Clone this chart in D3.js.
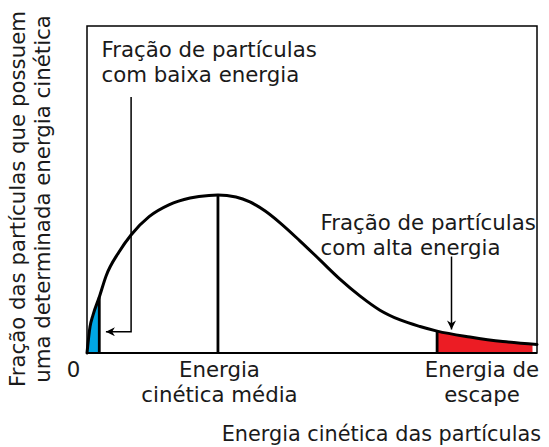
<!DOCTYPE html>
<html><head><meta charset="utf-8">
<script src="https://cdn.jsdelivr.net/npm/d3@7"></script>
<style>
body{margin:0;background:#fff}
text{font-family:"DejaVu Sans",Verdana,sans-serif;font-size:21.3px;fill:#1a1a1a}
</style>
</head><body>
<svg id="c" width="549" height="447"></svg>
<script>
// Distribution curve (energy in arbitrary units 0..100, fraction in arbitrary units 0..100)
const energy   = [0, 0.67, 1.33, 2.73, 4.22, 7.11, 9.78, 13.8, 18.2, 22.9, 27.1, 29.1, 33.1, 36.2, 39.6, 42.9, 47.3, 51.8, 56.2, 60.7, 65.1, 69.6, 74, 77.8, 85.1, 92.4, 100];
const fraction = [0, 8.0, 11.6, 17.1, 23.5, 30.9, 36.1, 41.7, 45.3, 47.4, 48.2, 48.3, 47.7, 46.2, 43.4, 39.8, 34.3, 28.4, 22.6, 17.4, 13.1, 10.1, 8.1, 6.7, 4.9, 3.5, 2.6];
// Marked energies and the curve height at each
const markerNames  = ["baixa", "media", "escape"];
const markerEnergy = [2.73, 29.1, 77.8];
const markerHeight = [17.1, 48.3, 6.7];
const redFillEnd = 99;
// Tick labels
const tickLabels = [["0"], ["Energia", "cinética média"], ["Energia de", "escape"]];
const xTitle = "Energia cinética das partículas";
const yTitle = ["Fração das partículas que possuem", "uma determinada energia cinética"];
const noteLow  = ["Fração de partículas", "com baixa energia"];
const noteHigh = ["Fração de partículas", "com alta energia"];

const svg = d3.select("#c");
const x = d3.scaleLinear().domain([0, 100]).range([87, 537]);
const y = d3.scaleLinear().domain([0, 100]).range([353, 26]);
const pts = energy.map((e, i) => [e, fraction[i]]);

const defs = svg.append("defs");
defs.append("clipPath").attr("id", "clipLow").append("rect")
  .attr("x", x(0)).attr("y", y(100)).attr("width", x(markerEnergy[0]) - x(0)).attr("height", y(0) - y(100));
defs.append("clipPath").attr("id", "clipHigh").append("rect")
  .attr("x", x(markerEnergy[2])).attr("y", y(100)).attr("width", x(redFillEnd) - x(markerEnergy[2])).attr("height", y(0) - y(100));
defs.append("marker").attr("id", "arr").attr("viewBox", "0 0 10 10").attr("refX", 10).attr("refY", 5)
  .attr("markerWidth", 11).attr("markerHeight", 9).attr("markerUnits", "userSpaceOnUse").attr("orient", "auto")
  .append("path").attr("d", "M0,0 L10,5 L0,10 L3,5 Z").attr("fill", "#000");

const curve = d3.curveMonotoneX;
const area = d3.area().x(d => x(d[0])).y0(y(0)).y1(d => y(d[1])).curve(curve);
const line = d3.line().x(d => x(d[0])).y(d => y(d[1])).curve(curve);

svg.append("path").attr("d", area(pts)).attr("fill", "#00a6e4").attr("clip-path", "url(#clipLow)");
svg.append("path").attr("d", area(pts)).attr("fill", "#ec1c24").attr("clip-path", "url(#clipHigh)");

// frame
svg.append("rect").attr("x", x(0)).attr("y", y(100)).attr("width", x(100) - x(0)).attr("height", y(0) - y(100))
  .attr("fill", "none").attr("stroke", "#000").attr("stroke-width", 1.5);
svg.append("line").attr("x1", x(0)).attr("x2", x(100)).attr("y1", y(0)).attr("y2", y(0)).attr("stroke", "#000").attr("stroke-width", 2);

// vertical marker lines
svg.selectAll("line.mk").data(markerEnergy).join("line").attr("class", "mk")
  .attr("x1", d => x(d)).attr("x2", d => x(d)).attr("y1", y(0)).attr("y2", (d, i) => y(markerHeight[i]))
  .attr("stroke", "#000").attr("stroke-width", 2.8);

// curve
svg.append("path").attr("d", line(pts)).attr("fill", "none").attr("stroke", "#000").attr("stroke-width", 3).attr("stroke-linecap", "round");

// arrows
svg.append("path").attr("d", `M${x(9.8)},${y(78.3)} L${x(9.8)},${y(6.5)} L${x(4.2)},${y(6.5)}`)
  .attr("fill", "none").attr("stroke", "#000").attr("stroke-width", 1.5).attr("marker-end", "url(#arr)");
svg.append("path").attr("d", `M${x(81)},${y(29.5)} L${x(81)},${y(7.2)}`)
  .attr("fill", "none").attr("stroke", "#000").attr("stroke-width", 1.5).attr("marker-end", "url(#arr)");

function lines(g, arr, xp, y0, anchor, gap = 25) {
  g.append("text").attr("text-anchor", anchor)
    .selectAll("tspan").data(arr).join("tspan")
    .attr("x", xp).attr("y", (d, i) => y0 + i * gap).text(d => d);
}
lines(svg, noteLow, 101.5, 57, "start");
lines(svg, noteHigh, 320.5, 230, "start");

// tick labels
lines(svg, tickLabels[0], x(0) - 13.5, 377, "middle");
lines(svg, tickLabels[1], x(markerEnergy[1]) + 1.5, 377, "middle");
lines(svg, tickLabels[2], x(100) - 55, 377, "middle");

// axis titles
svg.append("text").attr("text-anchor", "end").attr("x", 541).attr("y", 441).style("font-size", "20.8px").text(xTitle);
const yt = svg.append("text").attr("text-anchor", "middle").attr("transform", "translate(0,199) rotate(-90)");
yt.selectAll("tspan").data(yTitle).join("tspan").attr("x", 0).attr("y", (d, i) => 25 + i * 25).text(d => d);
</script>
</body></html>
